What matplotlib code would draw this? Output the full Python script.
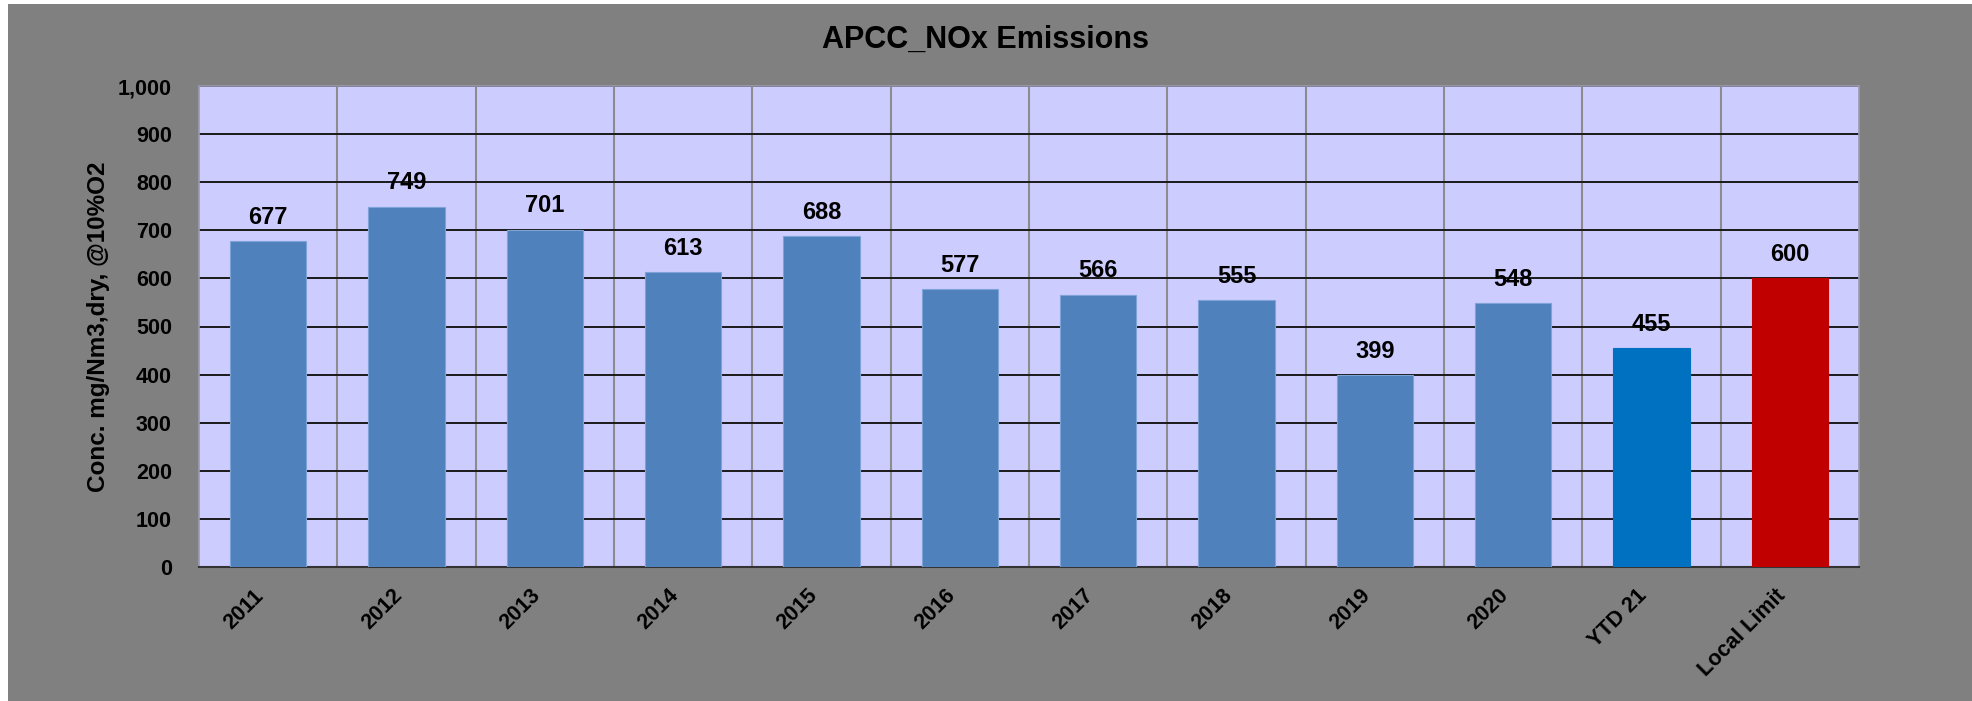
import numpy as np
import matplotlib.pyplot as plt
from matplotlib.patches import Rectangle
from matplotlib.ticker import FuncFormatter

plt.rcParams['font.family'] = ['Liberation Sans', 'DejaVu Sans']
plt.rcParams['font.weight'] = 'bold'

categories = ['2011', '2012', '2013', '2014', '2015', '2016', '2017', '2018',
              '2019', '2020', 'YTD 21', 'Local Limit']
values = [677, 749, 701, 613, 688, 577, 566, 555, 399, 548, 455, 600]
colors = ['#4F81BD'] * 10 + ['#0070C0', '#C00000']
edges = ['#7EA3D6'] * 10 + ['#0070C0', '#C00000']

fig = plt.figure(figsize=(19.72, 7.01), dpi=100, facecolor='white')
# grey chart area (small white strip left/top as in the original screenshot)
fig.patches.append(Rectangle((8 / 1972, 0), 1, 1 - 4 / 701, transform=fig.transFigure,
                             facecolor='#808080', edgecolor='none', zorder=-10))

ax = fig.add_axes([199 / 1972, 1 - 567 / 701, (1859 - 199) / 1972, (567 - 86) / 701])
ax.set_facecolor('#CCCCFF')

x = np.arange(len(categories))
bars = ax.bar(x, values, width=0.55, color=colors, edgecolor=edges, linewidth=0.8, zorder=3)

for xi, v in zip(x, values):
    ax.annotate(str(v), (xi, v), xytext=(0, 9), textcoords='offset points',
                ha='center', va='bottom', fontsize=17, fontweight='bold')

ax.set_xlim(-0.5, len(categories) - 0.5)
ax.set_ylim(0, 1000)
ax.set_yticks(np.arange(0, 1001, 100))
ax.yaxis.set_major_formatter(FuncFormatter(lambda v, p: f'{int(v):,}'))
ax.set_xticks(x)
ax.set_xticklabels(categories, rotation=45, ha='right', va='top')
ax.set_xticks(np.arange(0.5, len(categories) - 0.5, 1), minor=True)

ax.tick_params(axis='y', length=0, pad=19.5, labelsize=15.5)
ax.tick_params(axis='x', which='major', length=0, pad=13, labelsize=15.5)
ax.tick_params(axis='x', which='minor', length=0)

ax.grid(axis='y', color='#1a1a1a', linewidth=1.4, zorder=1)
ax.grid(axis='x', which='minor', color='#8C8C8C', linewidth=1.5, zorder=1)
ax.set_axisbelow(True)

for side in ['top', 'right', 'left']:
    ax.spines[side].set_color('#9A9AB0')
    ax.spines[side].set_linewidth(1.2)
ax.spines['bottom'].set_color('#333333')
ax.spines['bottom'].set_linewidth(1.5)

ax.set_ylabel('Conc. mg/Nm3,dry, @10%O2', fontsize=17.5, fontweight='bold')
ax.yaxis.set_label_coords((110 - 199) / (1859 - 199), 0.5)

fig.text(0.5, 1 - 40 / 701, 'APCC_NOx Emissions', ha='center', va='center',
         fontsize=22, fontweight='bold')

fig.savefig('out.png', dpi=100, facecolor=fig.get_facecolor())
